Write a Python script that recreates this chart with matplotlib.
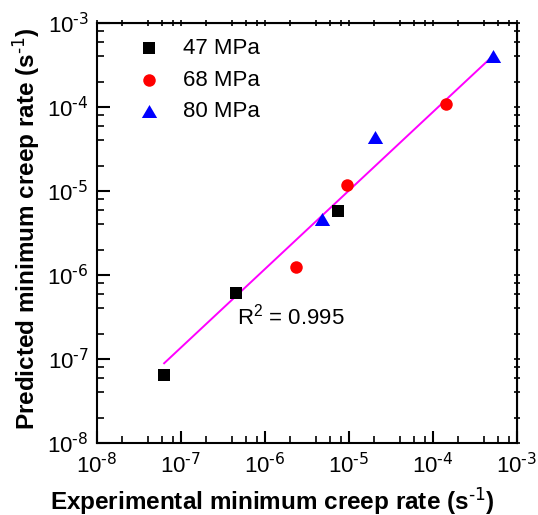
import matplotlib
matplotlib.use('Agg')
from matplotlib import pyplot as plt
from matplotlib.ticker import LogLocator, NullFormatter, FuncFormatter
import numpy as np

plt.rcParams['font.family'] = ['Liberation Sans', 'DejaVu Sans']
plt.rcParams['mathtext.default'] = 'regular'

# experimental vs predicted minimum creep rate (s^-1)
exp_47 = [6.3e-8, 4.5e-7, 7.4e-6]
pred_47 = [6.5e-8, 6.1e-7, 5.8e-6]
exp_68 = [2.34e-6, 9.5e-6, 1.43e-4]
pred_68 = [1.24e-6, 1.18e-5, 1.09e-4]
exp_80 = [4.8e-6, 2.04e-5, 5.2e-4]
pred_80 = [4.6e-6, 4.4e-5, 4.05e-4]
fit_x = [6.3e-8, 5.0e-4]
fit_y = [8.9e-8, 3.94e-4]

tri = [(-1, -0.85), (1, -0.85), (0, 0.85)]  # slightly flattened triangle

fig = plt.figure(figsize=(5.38, 5.15), dpi=100)
ax = fig.add_axes([0.1803, 0.1398, 0.7807, 0.8155])

ax.plot(fit_x, fit_y, color='#ff00ff', lw=1.4, zorder=2)
ax.scatter(exp_47, pred_47, marker='s', s=8.5**2, color='black', lw=0, label='47 MPa', zorder=3)
ax.scatter(exp_68, pred_68, marker='o', s=9**2, color='#ff0000', lw=0, label='68 MPa', zorder=3)
ax.scatter(exp_80, pred_80, marker=tri, s=11**2, color='#0000ff', lw=0, label='80 MPa', zorder=3)

ax.set_xscale('log')
ax.set_yscale('log')
ax.set_xlim(1e-8, 1e-3)
ax.set_ylim(1e-8, 1e-3)

fmt = FuncFormatter(lambda v, p: r'$10^{\text{-%d}}$' % round(-np.log10(v)))
for a in (ax.xaxis, ax.yaxis):
    a.set_major_formatter(fmt)
    a.set_minor_locator(LogLocator(base=10, subs=[2, 4, 6, 8]))
    a.set_minor_formatter(NullFormatter())
ax.tick_params(which='major', direction='in', length=9, width=1.5, labelsize=16)
ax.tick_params(axis='x', which='major', pad=7)
ax.tick_params(axis='y', which='major', pad=6)
ax.tick_params(which='minor', direction='in', length=5, width=1.2)
for sp in ax.spines.values():
    sp.set_linewidth(1.5)

# small ticks on top and right
top = ax.secondary_xaxis('top')
right = ax.secondary_yaxis('right')
for sec, a in ((top, top.xaxis), (right, right.yaxis)):
    a.set_minor_locator(LogLocator(base=10, subs=[2, 4, 6, 8]))
    a.set_minor_formatter(NullFormatter())
    sec.tick_params(which='both', direction='inout', length=4, width=1.2,
                    labeltop=False, labelright=False)

ax.set_xlabel(r'Experimental minimum creep rate (s$^{\text{-1}}$)', fontsize=17.5, fontweight='bold')
ax.set_ylabel(r'Predicted minimum creep rate (s$^{\text{-1}}$)', fontsize=17.5, fontweight='bold')
ax.xaxis.set_label_coords(0.417, -0.100)
ax.yaxis.set_label_coords(-0.132, 0.51)

ax.text(0.333, 0.281, r'R$^2$ = 0.995', transform=ax.transAxes, fontsize=16)

ax.legend(loc='upper left', bbox_to_anchor=(0.0976, 0.964), frameon=False, fontsize=16,
          scatterpoints=1, handlelength=1.0, handletextpad=1.03, labelspacing=0.47,
          borderpad=0, borderaxespad=0)

plt.savefig('out.png', dpi=100)
